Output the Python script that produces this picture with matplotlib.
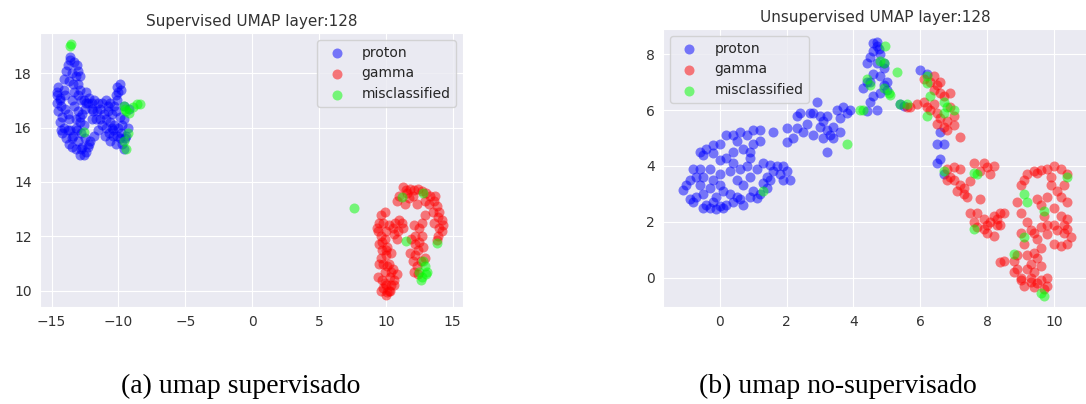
import matplotlib
matplotlib.use("Agg")
import matplotlib.pyplot as plt
import seaborn as sns
import numpy as np

sns.set_style("darkgrid")
plt.rcParams['font.family'] = ['DejaVu Sans']

# ---------------- supervised embedding ----------------
sup_proton_x = [-14.5, -14.6, -14.4, -14.6, -14.3, -14.5, -14.2, -14.4, -14.1, -14.2, -13.9, -13.7, -13.5, -13.2,
                -12.9, -12.6, -12.4, -12.7, -12.3, -12.1, -13.0, -13.4, -13.6,
                -13.9, -13.6, -13.8, -13.3, -13.1, -13.5, -13.2, -13.0, -12.9, -13.4, -13.7, -14.1, -13.6, -13.0,
                -13.0, -12.8, -12.6, -12.3, -12.0, -12.2, -11.8, -11.5, -11.2, -10.9, -10.6, -10.3, -12.5, -12.7,
                -13.0, -13.3, -13.5, -12.9, -12.6, -13.2, -13.2, -12.5, -12.8,
                -10.1, -9.9, -10.0, -10.2, -9.8, -10.1,
                -11.4, -11.1, -10.8, -10.5, -10.2, -9.9, -9.6, -11.2, -10.9, -10.6, -10.3, -10.0, -11.5, -11.0,
                -10.7, -10.4, -10.1, -9.8, -9.5, -10.6, -10.2, -9.7, -9.4, -9.3, -9.6, -9.2, -11.8, -12.0, -11.6, -9.6,
                -14.0, -13.8, -12.0, -11.7, -12.4, -13.7, -14.3, -12.9,
                -14.4, -14.0, -13.8, -13.5, -12.8, -12.2, -11.4, -10.8, -10.4, -9.9, -13.3, -12.9, -14.6, -13.1,
                -12.4, -11.9, -10.9, -10.5, -9.7, -14.1]
sup_proton_y = [17.5, 17.3, 17.1, 16.9, 16.8, 16.6, 16.4, 16.2, 16.0, 15.8, 15.6, 15.4, 15.3, 15.2,
                15.0, 15.0, 15.1, 15.3, 15.3, 15.5, 15.5, 15.7, 15.9,
                18.1, 18.5, 18.3, 18.4, 18.3, 18.0, 17.9, 18.1, 17.9, 17.6, 17.7, 17.8, 18.6, 17.6,
                17.2, 17.0, 17.0, 16.9, 16.9, 17.1, 17.0, 16.9, 16.9, 17.0, 16.9, 16.8, 16.7, 16.5,
                16.6, 16.8, 17.0, 16.2, 16.1, 16.3, 16.0, 15.6, 15.8,
                17.5, 17.6, 17.3, 17.2, 17.4, 17.0,
                16.3, 16.5, 16.6, 16.5, 16.6, 16.4, 16.3, 16.1, 16.0, 16.2, 16.1, 16.0, 15.9, 15.7,
                15.8, 15.7, 15.7, 15.8, 15.6, 15.5, 15.4, 15.4, 15.7, 16.0, 16.8, 16.7, 15.7, 16.3, 16.6, 15.2,
                17.2, 16.5, 16.7, 16.3, 17.3, 16.3, 15.9, 17.4,
                17.0, 16.7, 15.9, 15.6, 15.2, 15.4, 16.7, 16.8, 15.9, 15.6, 17.3, 16.4, 17.2, 15.9,
                16.9, 16.6, 16.3, 16.0, 16.1, 17.4]

sup_gamma_x = [9.6, 9.5, 9.4, 9.6, 9.5, 9.7, 9.6, 9.8, 9.9, 9.7, 10.0, 10.1, 10.2, 10.4, 10.3, 10.5, 10.2,
               10.0, 10.1, 9.9, 10.0, 9.8, 10.3, 10.6, 10.8, 9.4, 9.6, 10.0, 9.5, 10.4, 10.2, 9.9,
               10.5, 10.7, 11.0, 11.2, 11.3, 10.9, 10.6, 10.8,
               10.8, 11.0, 11.3, 11.5, 11.8, 12.1, 12.4, 12.7, 13.0, 13.3, 13.6, 13.8, 14.0, 14.2, 14.0,
               14.2, 13.9, 13.8, 13.5, 13.6, 13.7, 11.7, 12.0, 12.3, 11.4, 12.9,
               12.1, 12.5, 12.7, 12.5, 12.8, 12.4, 12.2, 12.0, 12.3, 12.6, 12.9, 12.1, 12.4, 12.2, 11.8, 12.9, 12.7,
               9.3, 9.7, 10.1, 9.8, 10.4, 10.0, 11.6, 13.2, 13.9, 14.3, 11.9, 12.2, 9.9, 10.6]
sup_gamma_y = [12.8, 12.5, 12.2, 12.0, 11.7, 11.5, 11.2, 11.0, 10.7, 10.4, 10.2, 9.95, 10.0, 10.2, 10.5, 10.8, 11.0,
               11.3, 11.6, 11.9, 12.2, 12.5, 10.0, 10.4, 10.6, 10.5, 10.0, 9.85, 11.0, 11.4, 12.4, 12.9,
               12.3, 12.5, 12.6, 12.5, 12.3, 12.2, 12.1, 11.9,
               13.3, 13.5, 13.8, 13.7, 13.75, 13.7, 13.75, 13.65, 13.6, 13.5, 13.3, 13.1, 12.9, 12.6, 12.3,
               12.2, 12.0, 11.85, 12.9, 12.5, 13.5, 13.4, 13.5, 13.2, 13.2, 13.3,
               12.4, 12.3, 12.0, 11.8, 11.6, 11.5, 11.3, 11.1, 10.9, 11.1, 11.2, 10.7, 10.6, 12.0, 11.4, 12.8, 12.5,
               12.3, 11.8, 10.9, 10.1, 10.7, 11.5, 13.6, 13.2, 12.7, 12.4, 11.9, 11.7, 10.3, 10.2]

sup_miss_x = [-13.6, -13.55, -12.6, -9.6, -9.4, -9.2, -8.9, -8.6, -8.4, -9.5, -9.6, -9.3, -9.4,
              7.6, 11.5, 13.8, 12.8, 11.2, 12.5, 12.7, 12.9, 13.0, 12.6, 12.8, 13.1]
sup_miss_y = [19.0, 19.08, 15.85, 16.8, 16.6, 16.55, 16.75, 16.85, 16.85, 16.7, 15.5, 15.8, 15.2,
              13.05, 11.84, 11.77, 13.58, 13.46, 10.7, 10.5, 10.9, 10.6, 10.4, 11.1, 10.7]

# ---------------- unsupervised embedding ----------------
uns_proton_x = [-1.1, -1.0, -0.9, -0.8, -0.6, -0.9, -0.7, -0.6, -0.5, -0.4, -0.3, -0.2, -0.1, 0.0, 0.2, 0.4, 0.5,
                0.7, 0.9, 1.1, 1.0, 1.2, 1.4, 1.5, 1.3, 1.6, 1.7, 1.8, 2.0, 2.1, 1.9, 1.5, 1.6, 1.2, 1.0, 0.8,
                0.6, 0.4, 0.2, -0.2, 0.0, -0.4, -0.5, -0.6, -0.2, 0.0, 0.2, 0.4, 0.6, 0.8, 0.9, 1.0, 1.2, 0.9,
                0.7, 0.5, -0.3, -0.2, 0.0, 0.0, 0.1, 0.3, 0.5, 0.7, 0.9, 1.1, -0.5, -0.3, -0.7, 0.3, 0.4, -0.1,
                0.6, 1.3, 1.4, 1.9, -0.8, 0.1, -0.5,
                2.0, 2.0, 2.3, 2.3, 2.5, 2.7, 2.8, 2.9, 2.8, 3.0, 3.1, 3.2, 3.1, 3.2, 3.3, 3.4, 3.5, 3.6, 3.7,
                3.8, 3.9, 3.4, 2.6, 2.4, 3.0, 3.2, 3.6, 2.2,
                4.6, 4.7, 4.6, 4.8, 4.5, 4.4, 4.7, 4.9, 4.8, 4.6, 4.5, 4.3, 4.4, 4.9, 5.0, 4.8, 4.6, 4.5, 4.7,
                4.4, 5.0, 4.7, 4.75, 4.9, 5.4, 5.5,
                6.0, 6.2, 6.6, 6.5, 6.7, 6.5, 6.6, 6.7]
uns_proton_y = [3.15, 3.3, 3.5, 3.9, 3.9, 2.8, 2.9, 3.3, 3.0, 2.6, 2.5, 2.7, 2.45, 2.55, 2.6, 2.7, 2.9,
                2.6, 2.9, 2.85, 3.1, 3.0, 3.2, 3.5, 3.4, 3.8, 4.0, 3.7, 3.8, 3.5, 3.5, 4.05, 5.2, 5.3, 5.3, 5.1,
                5.2, 5.1, 5.1, 4.75, 4.8, 4.6, 4.4, 4.5, 4.45, 4.2, 4.3, 4.1, 3.9, 4.0, 4.5, 4.8, 4.9, 4.3,
                4.6, 4.9, 3.9, 3.5, 3.3, 3.7, 3.1, 3.0, 3.5, 3.3, 3.6, 3.9, 3.6, 3.2, 3.6, 3.8, 4.5, 2.9,
                2.8, 4.1, 3.6, 4.0, 2.7, 2.5, 2.5,
                4.85, 5.35, 5.8, 5.35, 5.2, 5.9, 5.9, 6.3, 5.1, 5.4, 5.6, 5.3, 5.0, 4.5, 5.1, 5.4, 6.0, 5.7, 6.1,
                5.9, 6.0, 5.0, 5.5, 5.9, 5.8, 5.8, 5.2, 5.0,
                8.4, 8.3, 8.1, 8.0, 7.9, 7.7, 7.7, 7.5, 7.2, 7.3, 7.0, 6.8, 7.0, 6.9, 6.7, 6.6, 6.5, 6.3, 6.0,
                5.95, 7.0, 8.45, 8.2, 7.7, 6.2, 6.15,
                7.45, 7.3, 5.2, 4.8, 4.8, 4.1, 4.25, 3.7]

uns_gamma_x = [5.7, 5.9, 6.1, 6.2, 6.3, 6.4, 6.5, 6.6, 6.3, 6.5, 6.4, 6.6, 6.7, 6.9, 6.6, 6.9, 6.8, 7.0,
               6.7, 6.5, 7.0, 7.2, 6.8, 6.1, 6.4, 5.6,
               6.8, 7.0, 7.2, 6.9, 6.8, 7.0, 7.2, 7.1, 7.3, 7.4, 7.5, 7.6, 7.9, 7.8, 8.0, 8.2, 8.1, 7.8, 7.7,
               7.9, 7.6, 7.7, 7.9, 8.0, 8.1, 8.2, 8.3, 8.4, 8.5, 8.3, 8.0, 8.2, 8.4, 7.3, 7.5,
               9.4, 9.6, 9.8, 10.0, 10.2, 10.4, 9.9, 9.5, 9.0, 9.1, 9.2,
               10.3, 10.1, 10.2, 10.4, 10.0, 10.2, 10.4, 10.3, 10.1, 10.3, 10.5, 10.4, 10.2, 10.0, 10.4, 9.9,
               9.8, 10.0,
               9.6, 9.5, 9.7, 9.8, 9.6, 9.4, 9.3, 9.5, 9.8, 9.2, 9.0, 8.9, 9.0, 9.1, 9.2, 9.5, 9.6, 9.4, 9.5,
               9.7, 9.6, 9.3, 9.1, 9.0, 8.9, 8.8, 8.9, 9.3, 9.2, 9.4, 9.8, 9.8, 9.4, 9.0, 8.5, 8.4, 8.8, 9.6,
               9.3]
uns_gamma_y = [6.1, 6.2, 6.3, 6.1, 6.0, 6.2, 5.9, 5.7, 7.0, 6.9, 6.7, 6.6, 6.5, 6.6, 7.0, 6.1, 5.6, 5.8,
               5.4, 5.5, 5.45, 5.05, 5.3, 7.1, 7.2, 6.1,
               3.9, 3.95, 3.9, 3.6, 3.5, 3.5, 3.3, 3.1, 3.0, 2.9, 3.45, 4.1, 4.1, 3.8, 3.95, 4.0, 3.7, 2.8, 2.3,
               2.1, 2.0, 1.8, 1.75, 1.9, 2.0, 2.2, 2.1, 2.3, 2.3, 1.9, 1.6, 1.5, 1.9, 3.2, 2.3,
               3.8, 3.85, 3.9, 4.0, 3.9, 3.7, 3.6, 3.75, 3.3, 3.5, 3.7,
               3.3, 3.1, 2.9, 2.7, 2.5, 2.2, 2.1, 1.9, 1.7, 1.6, 1.45, 1.2, 1.15, 1.2, 1.75, 3.3,
               2.9, 1.9,
               2.6, 2.8, 2.2, 1.9, 1.8, 1.6, 1.7, 1.4, 1.55, 2.0, 2.3, 2.7, 1.6, 1.2, 0.8, 0.7, 0.4, 0.2, -0.2,
               -0.4, -0.1, -0.15, -0.3, 0.0, 0.3, 0.6, 0.8, 0.5, 0.3, 0.9, 0.0, -0.3, -0.35, -0.1, 0.6, 0.55,
               0.2, 1.05, 0.0]

uns_miss_x = [4.95, 4.8, 4.9, 4.4, 4.5, 4.9, 5.05, 4.2, 3.8, 1.3, 5.3, 5.1, 5.4, 5.6, 6.2, 6.2, 6.3, 6.2,
              6.7, 6.8, 7.0, 6.7, 6.7, 7.6, 7.7, 7.6, 9.1, 9.2, 9.7, 10.4, 9.1, 8.8, 9.6, 9.7, 4.3]
uns_miss_y = [8.3, 7.75, 7.7, 7.1, 6.9, 6.8, 6.6, 6.0, 4.8, 3.1, 7.35, 6.55, 6.2, 6.2, 7.2, 6.95, 6.5, 5.8,
              6.3, 6.1, 6.0, 5.9, 3.8, 3.75, 3.7, 1.75, 3.0, 2.7, 2.4, 3.6, 1.45, 0.85, -0.55, -0.65, 6.0]

labels = ["proton", "gamma", "misclassified"]
colors = ["blue", "red", "lime"]

W, H = 1086, 404
fig = plt.figure(figsize=(W / 100, H / 100), dpi=100)

def px_axes(left, top, right, bottom):
    return fig.add_axes([left / W, 1 - bottom / H, (right - left) / W, (bottom - top) / H])

ax1 = px_axes(40, 33, 463, 307)
ax2 = px_axes(663, 29, 1088, 307)

panels = [
    (ax1, [(sup_proton_x, sup_proton_y), (sup_gamma_x, sup_gamma_y), (sup_miss_x, sup_miss_y)],
     "Supervised UMAP layer:128", "upper right"),
    (ax2, [(uns_proton_x, uns_proton_y), (uns_gamma_x, uns_gamma_y), (uns_miss_x, uns_miss_y)],
     "Unsupervised UMAP layer:128", "upper left"),
]

for ax, series, title, loc in panels:
    for (xs, ys), lab, col in zip(series, labels, colors):
        ax.scatter(xs, ys, s=52, c=col, alpha=0.5, linewidths=0, label=lab)
    ax.set_title(title, fontsize=11, color="#333333", pad=5)
    ax.tick_params(labelsize=10, colors="#333333", length=0, pad=6)
    leg = ax.legend(loc=loc, fontsize=10, frameon=True, borderpad=0.4)
    leg.get_frame().set_facecolor("#EAEAF2")
    leg.get_frame().set_edgecolor("#CCCCCC")

ax1.set_xlim(-15.87, 15.77)
ax1.set_ylim(9.40, 19.48)
ax1.set_xticks([-15, -10, -5, 0, 5, 10, 15])
ax1.set_yticks([10, 12, 14, 16, 18])

ax2.set_xlim(-1.70, 11.02)
ax2.set_ylim(-1.05, 8.90)
ax2.set_xticks([0, 2, 4, 6, 8, 10])
ax2.set_yticks([0, 2, 4, 6, 8])

fig.text(241 / W, 1 - 386 / H, "(a) umap supervisado", ha="center", va="center",
         fontsize=20, family="Liberation Serif", color="black")
fig.text(838 / W, 1 - 386 / H, "(b) umap no-supervisado", ha="center", va="center",
         fontsize=20, family="Liberation Serif", color="black")

fig.savefig("out.png", dpi=100, facecolor="white")
